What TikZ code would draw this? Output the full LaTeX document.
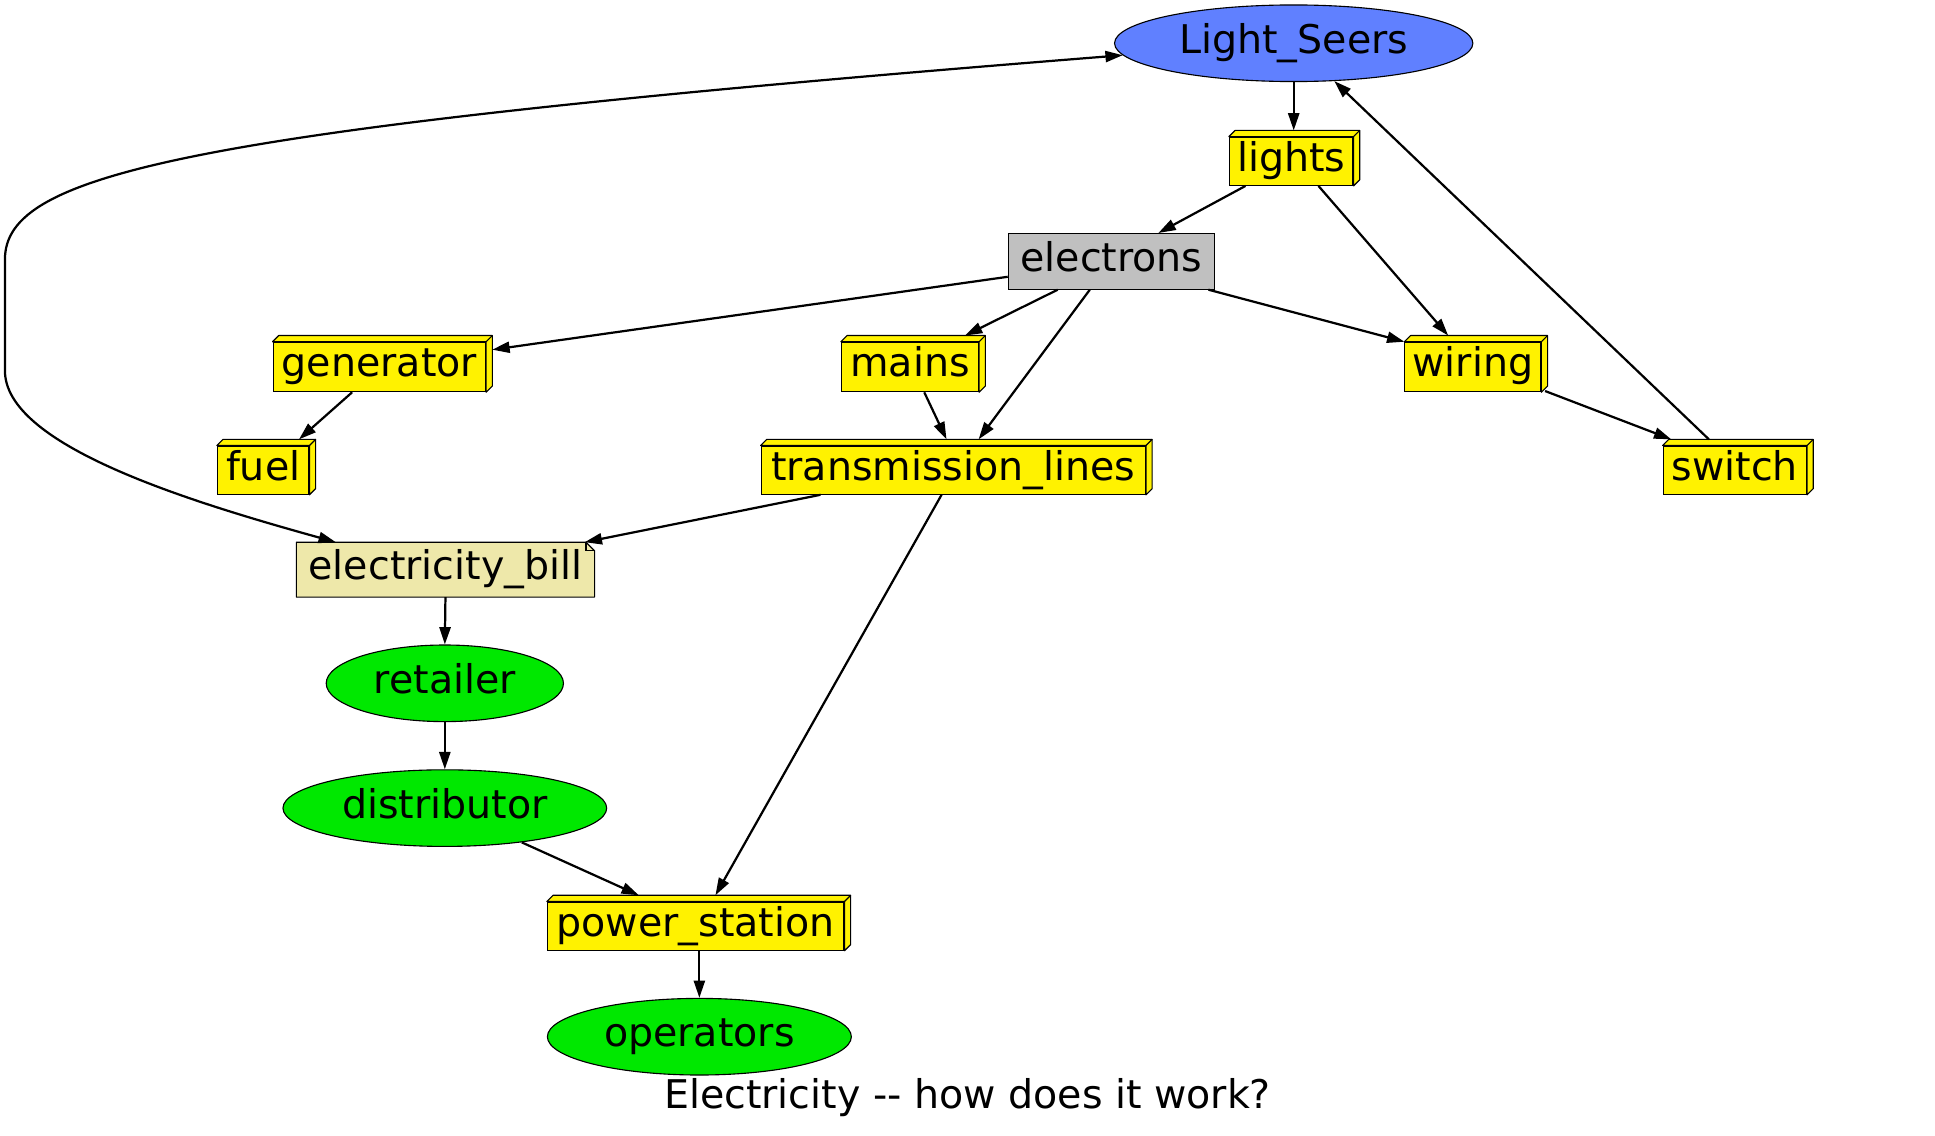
\documentclass[tikz,border=0pt]{standalone}
\usepackage{fontspec}
\setmainfont{DejaVu Sans}[Ligatures=TeXOff]
\usetikzlibrary{shapes.geometric,arrows.meta}
\definecolor{lsblue}{RGB}{96,128,255}
\definecolor{gr}{RGB}{0,232,0}
\definecolor{gold}{RGB}{238,232,170}
\definecolor{elgray}{RGB}{192,192,192}
\begin{document}
\begin{tikzpicture}[x=1pt,y=-1pt,
  every node/.style={font=\fontsize{32}{38}\selectfont, text height=23pt, text depth=7pt, inner sep=0pt},
  boxthree/.style={draw=black, line width=0.9pt, fill=yellow, rectangle, minimum height=40pt},
  plainbox/.style={draw=black, line width=0.9pt, fill=elgray, rectangle},
  ell/.style={draw=black, line width=0.9pt, ellipse},
  conn/.style={line width=1.8pt, -{Triangle[length=14pt,width=9pt]}},
  bothconn/.style={line width=1.8pt, {Triangle[length=14pt,width=9pt]}-{Triangle[length=14pt,width=9pt]}}
]
\useasboundingbox (0,0) rectangle (1566,918.6);
\fill[white] (0,0) rectangle (1566,918.6);

% ellipses
\node[ell, fill=lsblue, minimum width=290pt, minimum height=62pt] (LS) at (1047,35) {Light\_Seers};
\node[ell, fill=gr, minimum width=192pt, minimum height=62pt] (ret) at (360,553) {retailer};
\node[ell, fill=gr, minimum width=262pt, minimum height=62pt] (dist) at (360,654) {distributor};
\node[ell, fill=gr, minimum width=246pt, minimum height=62pt] (ops) at (566,839) {operators};

% box3d nodes (front faces)
\node[boxthree, minimum width=100pt, minimum height=39pt] (lights) at (1045,130.5) {lights};
\node[boxthree, minimum width=172pt] (gen) at (307,297) {generator};
\node[boxthree, minimum width=111pt] (mains) at (736.5,297) {mains};
\node[boxthree, minimum width=110pt] (wiring) at (1192,297) {wiring};
\node[boxthree, minimum width=74pt, minimum height=39pt] (fuel) at (213,380.5) {fuel};
\node[boxthree, minimum width=311pt, minimum height=39pt] (tl) at (771.5,380.5) {transmission\_lines};
\node[boxthree, minimum width=116pt, minimum height=39pt] (switch) at (1404,380.5) {switch};
\node[boxthree, minimum width=240pt, minimum height=39pt] (ps) at (563,749.5) {power\_station};

\foreach \n in {lights,gen,mains,wiring,fuel,tl,switch,ps}{
  \filldraw[fill=yellow, draw=black, line width=0.9pt, line join=round]
    (\n.north west) -- ++(5,-5) -| ([shift={(5,-5)}]\n.south east) -- (\n.south east) -- (\n.north east) -- cycle;
  \draw[line width=0.9pt] (\n.north east) -- ++(5,-5);
}

% plain box
\node[plainbox, minimum width=167pt, minimum height=45pt] (el) at (899.5,211.5) {electrons};

% note
\node[minimum width=241pt, minimum height=44pt] (eb) at (360.5,461) {};
\filldraw[fill=gold, draw=black, line width=0.9pt, line join=round]
  (eb.north west) -- ([shift={(-7,0)}]eb.north east) -- ([shift={(0,7)}]eb.north east) -- (eb.south east) -- (eb.south west) -- cycle;
\draw[line width=0.9pt] ([shift={(-7,0)}]eb.north east) -- ([shift={(-7,7)}]eb.north east) -- ([shift={(0,7)}]eb.north east);
\node at (eb.center) {electricity\_bill};

% title
\node (title) at (783,889) {Electricity -- how does it work?};

% connectors
\draw[conn] (LS.south) -- ([shift={(2,-5)}]lights.north);
\draw[conn] ([shift={(-37,0)}]lights.south) -- ([shift={(38,0)}]el.north);
\draw[conn] ([shift={(22,0)}]lights.south) -- ([shift={(-20,-5)}]wiring.north);
\draw[conn] ([shift={(-21,-5)}]switch.north) -- (LS.317.5);
\draw[conn] ([shift={(0,12.5)}]el.west) -- ([shift={(5,-14)}]gen.east);
\draw[conn] ([shift={(-43.5,0)}]el.south) -- ([shift={(44.5,-5)}]mains.north);
\draw[conn] ([shift={(-17.5,0)}]el.south) -- ([shift={(20.5,-5)}]tl.north);
\draw[conn] ([shift={(78.5,0)}]el.south) -- (wiring.north west);
\draw[conn] ([shift={(-22,0)}]gen.south) -- ([shift={(29,-5)}]fuel.north);
\draw[conn] ([shift={(11.5,0)}]mains.south) -- ([shift={(-5.5,-5)}]tl.north);
\draw[conn] ([shift={(3,-1)}]wiring.south east) -- ([shift={(7,-5)}]switch.north west);
\draw[conn] ([shift={(-107.5,0)}]tl.south) -- ([shift={(-8,0)}]eb.north east);
\draw[conn] ([shift={(-9.5,0)}]tl.south) -- ([shift={(16,-5)}]ps.north);
\draw[conn] (eb.south) -- (ret.north);
\draw[conn] (ret.south) -- (dist.north);
\draw[conn] (dist.336.2) -- ([shift={(-46,-5)}]ps.north);
\draw[conn] ([shift={(3,0)}]ps.south) -- (ops.north);

\coordinate (c1) at (4,210);
\coordinate (c2) at (4,300);
\draw[bothconn] (LS.184) .. controls (150,105) and (4,140) .. (c1) -- (c2) .. controls (4,360) and (150,405) .. ([shift={(32,0)}]eb.north west);
\end{tikzpicture}
\end{document}
